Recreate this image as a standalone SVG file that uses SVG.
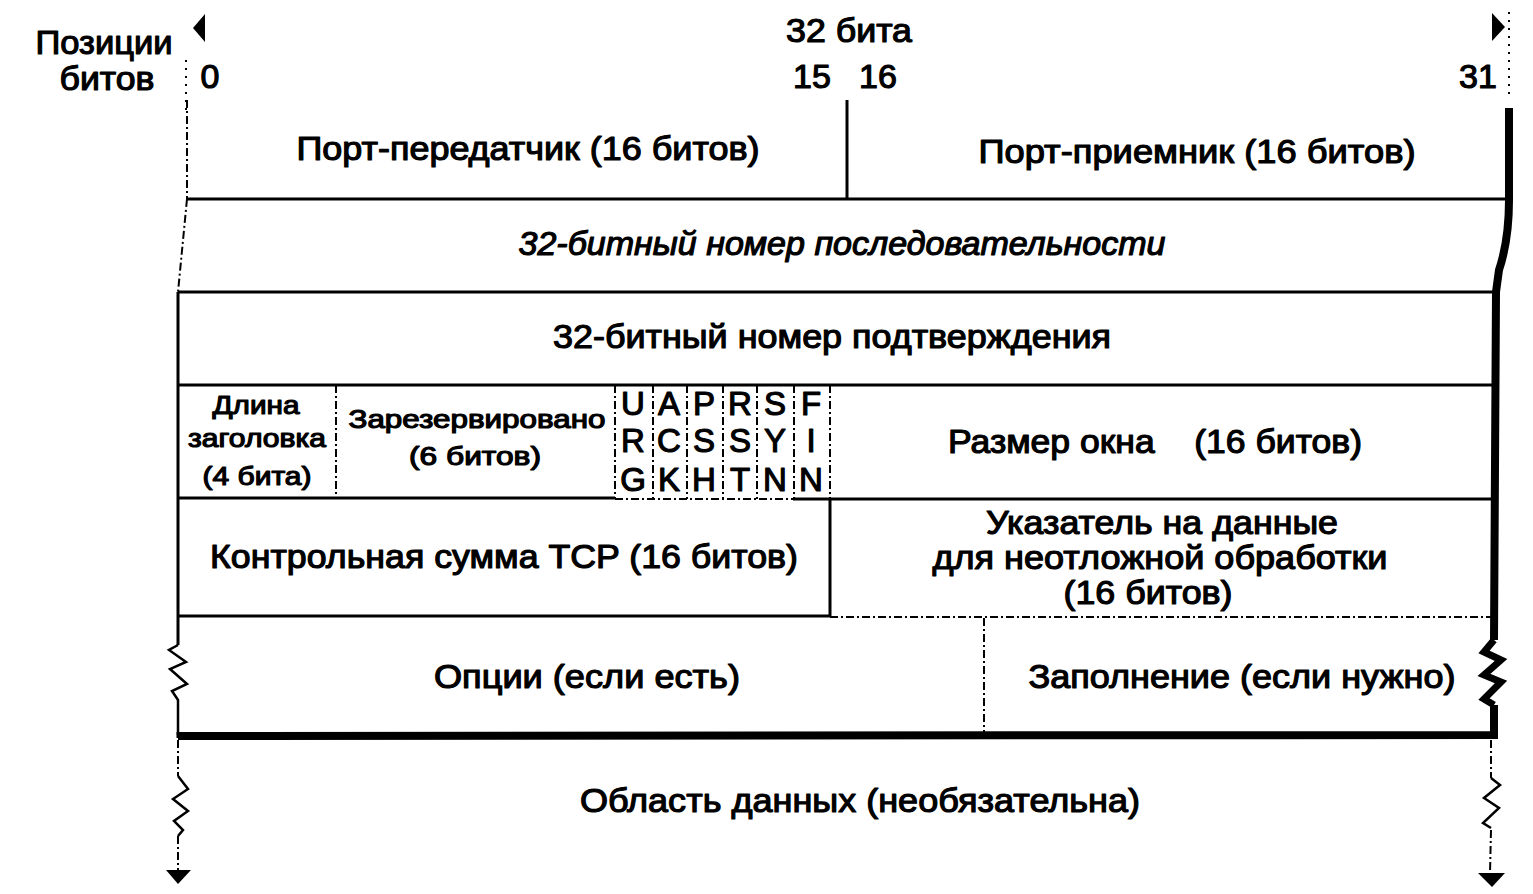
<svg xmlns="http://www.w3.org/2000/svg" width="1533" height="894" viewBox="0 0 1533 894">
<style>
text{font-family:"Liberation Sans",Arial,sans-serif;fill:#000;stroke:#000;stroke-width:1.2;stroke-linejoin:round}
.m{font-size:34px;text-anchor:middle}
.s{font-size:26px;text-anchor:middle}
.f{font-size:33px;text-anchor:middle}
.it{font-style:italic}
.ln{stroke:#000;stroke-width:3;fill:none}
.dl{stroke:#000;stroke-width:2;fill:none;stroke-dasharray:8 3 2 3}
.dt{stroke:#000;stroke-width:2;fill:none;stroke-dasharray:2 6}
.th{stroke:#000;stroke-width:8;fill:none;stroke-linejoin:miter}
.zz{stroke:#000;stroke-width:2.5;fill:none}
</style>
<rect width="1533" height="894" fill="#fff"/>
<g id="header">
<text class="m" x="104" y="54" textLength="137" lengthAdjust="spacingAndGlyphs">Позиции</text>
<text class="m" x="107" y="90" textLength="95" lengthAdjust="spacingAndGlyphs">битов</text>
<text class="m" x="849" y="42" textLength="126" lengthAdjust="spacingAndGlyphs">32 бита</text>
<text class="m" x="210" y="88">0</text>
<text class="m" x="812" y="88">15</text>
<text class="m" x="878" y="88">16</text>
<text class="m" x="1478" y="88">31</text>
<polygon points="193,28 205,14 205,42" fill="#000"/>
<polygon points="1505,27 1492,13 1492,41" fill="#000"/>
<line class="dt" x1="186" y1="60" x2="186" y2="110"/>
<line class="dt" x1="1509" y1="12" x2="1509" y2="100"/>
</g>
<g id="connectors">
<line class="dl" x1="187" y1="100" x2="187" y2="199"/>
<line class="dl" x1="187" y1="199" x2="178" y2="292"/>
<line class="ln" x1="178" y1="292" x2="178" y2="645"/>
<polyline class="zz" points="178,645 169,650 186,662 170,669 187,684 172,691 178,700 178,735" stroke-width="3.5"/>
<path class="th" d="M1509,108 L1509,200 Q1509,240 1499,270 L1496,292 L1494,640"/>
<path d="M1494,640 L1484,652 L1501,660 L1484,675 L1501,682 L1484,699 L1494,705" stroke="#000" stroke-width="7" fill="none"/>
<path class="th" d="M1494,705 L1494,735 L178,736"/>
<line class="ln" x1="178" y1="732" x2="178" y2="738"/>
<line class="ln" x1="187" y1="199" x2="1509" y2="199"/>
<line class="ln" x1="178" y1="292" x2="1498" y2="292"/>
<line class="ln" x1="178" y1="385" x2="1494" y2="385"/>
<line class="ln" x1="178" y1="498" x2="615" y2="498"/>
<line class="dl" x1="615" y1="499" x2="793" y2="499"/>
<line class="ln" x1="793" y1="499" x2="1494" y2="499"/>
<line class="ln" x1="178" y1="616" x2="830" y2="616"/>
<line class="dl" x1="830" y1="617" x2="1494" y2="617"/>
<line class="ln" x1="847" y1="100" x2="847" y2="199"/>
<line class="dl" x1="336" y1="385" x2="336" y2="498"/>
<line class="dl" x1="615" y1="385" x2="615" y2="499"/>
<line class="dl" x1="653" y1="385" x2="653" y2="499"/>
<line class="dl" x1="687" y1="385" x2="687" y2="499"/>
<line class="dl" x1="723" y1="385" x2="723" y2="499"/>
<line class="dl" x1="757" y1="385" x2="757" y2="499"/>
<line class="dl" x1="794" y1="385" x2="794" y2="499"/>
<line class="dl" x1="830" y1="385" x2="830" y2="499"/>
<line class="ln" x1="830" y1="499" x2="830" y2="616"/>
<line class="dl" x1="984" y1="618" x2="984" y2="733"/>
<line class="dl" x1="178" y1="740" x2="178" y2="776"/>
<polyline class="zz" points="178,776 188,789 173,799 188,811 174,821 183,830 178,836"/>
<line class="dl" x1="178" y1="836" x2="178" y2="871"/>
<polygon points="166,870 191,870 178,884" fill="#000"/>
<line class="dl" x1="1491" y1="740" x2="1491" y2="778"/>
<polyline class="zz" points="1491,778 1500,785 1484,798 1499,808 1483,823 1491,828"/>
<line class="dl" x1="1491" y1="830" x2="1490" y2="873"/>
<polygon points="1478,873 1505,873 1492,887" fill="#000"/>
</g>
<g id="src-port"><text class="m" x="528" y="160" textLength="463" lengthAdjust="spacingAndGlyphs">Порт-передатчик (16 битов)</text></g>
<g id="dst-port"><text class="m" x="1197" y="163" textLength="437" lengthAdjust="spacingAndGlyphs">Порт-приемник (16 битов)</text></g>
<g id="seq"><text class="m it" x="842" y="255" textLength="647" lengthAdjust="spacingAndGlyphs">32-битный номер последовательности</text></g>
<g id="ack"><text class="m" x="832" y="348" textLength="558" lengthAdjust="spacingAndGlyphs">32-битный номер подтверждения</text></g>
<g id="hlen">
<text class="s" x="256" y="414" textLength="87" lengthAdjust="spacingAndGlyphs">Длина</text>
<text class="s" x="257" y="447" textLength="138" lengthAdjust="spacingAndGlyphs">заголовка</text>
<text class="s" x="257" y="485" textLength="109" lengthAdjust="spacingAndGlyphs">(4 бита)</text>
</g>
<g id="reserved">
<text class="s" x="477" y="428" textLength="257" lengthAdjust="spacingAndGlyphs">Зарезервировано</text>
<text class="s" x="475" y="465" textLength="132" lengthAdjust="spacingAndGlyphs">(6 битов)</text>
</g>
<g id="flags">
<text class="f" x="633" y="415">U</text><text class="f" x="633" y="452">R</text><text class="f" x="633" y="491">G</text>
<text class="f" x="669" y="415">A</text><text class="f" x="669" y="452">C</text><text class="f" x="669" y="491">K</text>
<text class="f" x="704" y="415">P</text><text class="f" x="704" y="452">S</text><text class="f" x="704" y="491">H</text>
<text class="f" x="740" y="415">R</text><text class="f" x="740" y="452">S</text><text class="f" x="740" y="491">T</text>
<text class="f" x="775" y="415">S</text><text class="f" x="775" y="452">Y</text><text class="f" x="775" y="491">N</text>
<text class="f" x="811" y="415">F</text><text class="f" x="811" y="452">I</text><text class="f" x="811" y="491">N</text>
</g>
<g id="window"><text class="m" x="1155" y="453" textLength="414" lengthAdjust="spacingAndGlyphs" xml:space="preserve">Размер окна    (16 битов)</text></g>
<g id="checksum"><text class="m" x="504" y="568" textLength="588" lengthAdjust="spacingAndGlyphs">Контрольная сумма TCP (16 битов)</text></g>
<g id="urgent">
<text class="m" x="1162" y="534" textLength="352" lengthAdjust="spacingAndGlyphs">Указатель на данные</text>
<text class="m" x="1160" y="569" textLength="455" lengthAdjust="spacingAndGlyphs">для неотложной обработки</text>
<text class="m" x="1148" y="604" textLength="169" lengthAdjust="spacingAndGlyphs">(16 битов)</text>
</g>
<g id="options"><text class="m" x="587" y="688" textLength="306" lengthAdjust="spacingAndGlyphs">Опции (если есть)</text></g>
<g id="padding"><text class="m" x="1242" y="688" textLength="427" lengthAdjust="spacingAndGlyphs">Заполнение (если нужно)</text></g>
<g id="data"><text class="m" x="860" y="812" textLength="560" lengthAdjust="spacingAndGlyphs">Область данных (необязательна)</text></g>
</svg>
